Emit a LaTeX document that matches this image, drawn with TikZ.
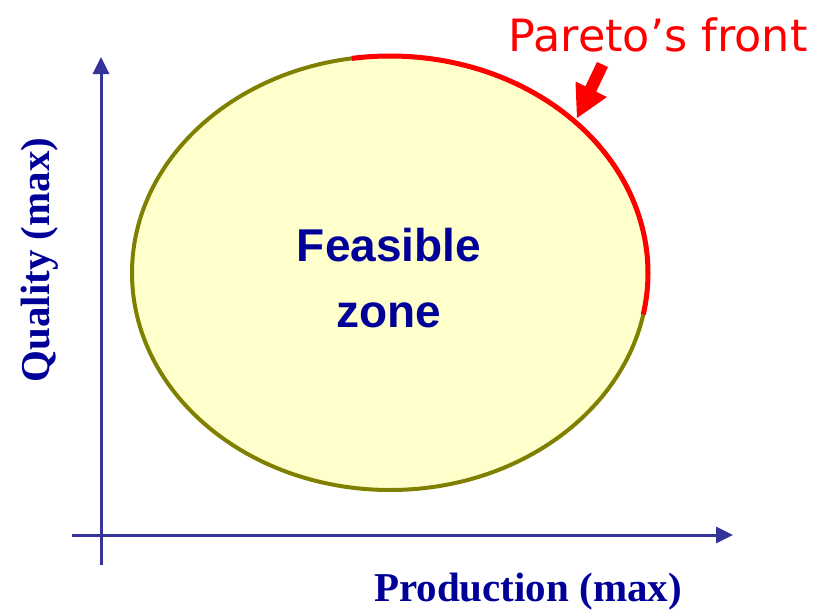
\documentclass[tikz,border=0pt]{standalone}
\usepackage{fontspec}
\setmainfont{Liberation Serif}
\newfontfamily\arialfont{Liberation Sans}
\newfontfamily\comicfont{DejaVu Sans}
\usetikzlibrary{arrows.meta}
\definecolor{axisblue}{HTML}{333399}
\definecolor{textnavy}{HTML}{000099}
\definecolor{zonefill}{HTML}{FFFFCC}
\definecolor{zoneedge}{HTML}{808000}
\definecolor{paretored}{HTML}{FF0000}
\tikzset{
  axisline/.style={draw=axisblue, line width=3pt, -{Triangle[length=17pt,width=16pt]}},
  axislabel/.style={text=textnavy, font=\bfseries\fontsize{41}{48}\selectfont, inner sep=0pt},
}
\begin{document}
\begin{tikzpicture}[x=1pt,y=-1pt]
\useasboundingbox (0,0) rectangle (816,610);
% axes
\coordinate (yfoot) at (101,565);
\coordinate (ytop) at (101,57);
\coordinate (xfoot) at (72,535);
\coordinate (xtop) at (733,535);
\draw[axisline] (yfoot) -- (ytop);
\draw[axisline] (xfoot) -- (xtop);
% feasible zone
\coordinate (c) at (390,273);
\draw[fill=zonefill, draw=zoneedge, line width=4pt] (c) ellipse [x radius=258, y radius=217];
% Pareto front arc
\draw[paretored, line width=5pt] (c) ++(-98.5:258 and 217) arc[start angle=-98.5, end angle=11, x radius=258, y radius=217];
% labels
\node[text=textnavy, font=\arialfont\bfseries\fontsize{46}{66}\selectfont, align=center, inner sep=0pt] (zone) at (389,278) {Feasible\\zone};
\node[axislabel, rotate=90] (qual) at (40,260) {Quality (max)};
\node[axislabel] (prod) at (528,591.5) {Production (max)};
\node[text=paretored, font=\comicfont\fontsize{44.5}{50}\selectfont, inner sep=0pt] (pareto) at (658,35) {Pareto’s front};
% red block arrow
\fill[paretored] (597,62) -- (585.4,86.3) -- (575.5,81.5) -- (577,118) -- (607,97) -- (596.2,91.7) -- (608,67) -- cycle;
\end{tikzpicture}
\end{document}
